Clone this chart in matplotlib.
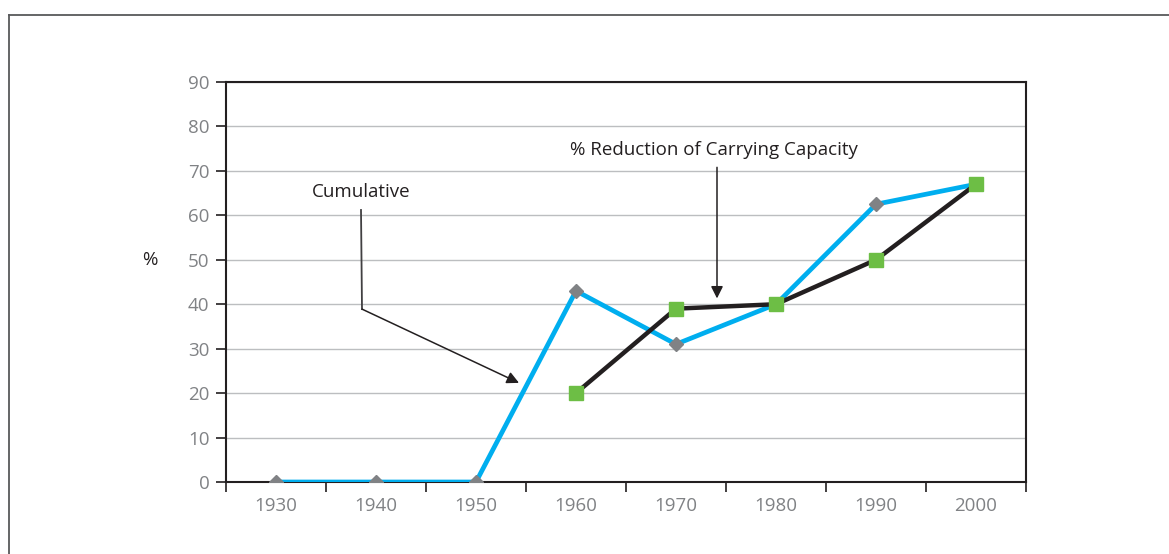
import matplotlib.pyplot as plt
from matplotlib.lines import Line2D

plt.rcParams['font.family'] = ['Open Sans', 'DejaVu Sans']

# data
years = ['1930', '1940', '1950', '1960', '1970', '1980', '1990', '2000']
cumulative = [0, 0, 0, 43, 31, 40, 62.5, 67]
reduction_idx = [3, 4, 5, 6, 7]
reduction = [20, 39, 40, 50, 67]

fig = plt.figure(figsize=(11.69, 5.54), dpi=100)
ax = fig.add_axes([226 / 1169, 1 - 482 / 554, 800 / 1169, 400 / 554])

x = list(range(len(years)))
ax.plot(x, cumulative, color='#00aeef', lw=3.4, zorder=3,
        marker='D', markersize=7, markerfacecolor='#808285',
        markeredgecolor='#808285')
ax.plot(reduction_idx, reduction, color='#231f20', lw=3.2, zorder=4,
        marker='s', markersize=10, markerfacecolor='#6dbe45',
        markeredgecolor='#6dbe45')

ax.set_xlim(-0.5, 7.5)
ax.set_ylim(0, 90)
ax.set_yticks(range(0, 91, 10))
ax.grid(axis='y', color='#bcbec0', lw=1)
ax.set_axisbelow(True)

# category labels centred, tick marks between categories
ax.set_xticks(x)
ax.set_xticklabels(years)
ax.set_xticks([i - 0.5 for i in range(len(years) + 1)], minor=True)
ax.tick_params(axis='x', which='major', length=0, pad=11,
               labelsize=13.5, labelcolor='#808285')
ax.tick_params(axis='x', which='minor', length=7, width=1.2,
               color='#231f20', direction='out')
ax.tick_params(axis='y', length=7, width=1.2, color='#231f20',
               labelsize=13.5, labelcolor='#808285', pad=5)
for s in ax.spines.values():
    s.set_color('#231f20')
    s.set_linewidth(1.5)

ax.text(-1.26, 50, '%', fontsize=13.5, color='#231f20',
        ha='center', va='center')

# annotations
ax.text(0.85, 65.3, 'Cumulative', fontsize=13.5, color='#231f20',
        ha='center', va='center')
ax.plot([0.85, 0.86], [61.2, 38.9], color='#414042', lw=1.3, zorder=5)
ax.annotate('', xy=(2.43, 22.3), xytext=(0.86, 38.9),
            arrowprops=dict(arrowstyle='-|>', color='#231f20', lw=1.1,
                            mutation_scale=18, shrinkA=0, shrinkB=0),
            zorder=5)

ax.text(4.38, 74.6, '% Reduction of Carrying Capacity', fontsize=13.5,
        color='#231f20', ha='center', va='center')
ax.annotate('', xy=(4.41, 41.3), xytext=(4.41, 70.8),
            arrowprops=dict(arrowstyle='-|>', color='#231f20', lw=1.1,
                            mutation_scale=18, shrinkA=0, shrinkB=0),
            zorder=5)

# outer frame (top and left edges only visible)
fig.add_artist(Line2D([8.5 / 1169, 1], [1 - 14.5 / 554, 1 - 14.5 / 554],
                      transform=fig.transFigure, color='#58595b', lw=1.3))
fig.add_artist(Line2D([8.5 / 1169, 8.5 / 1169], [0, 1 - 14.5 / 554],
                      transform=fig.transFigure, color='#58595b', lw=1.3))

fig.savefig('out.png', dpi=100)
